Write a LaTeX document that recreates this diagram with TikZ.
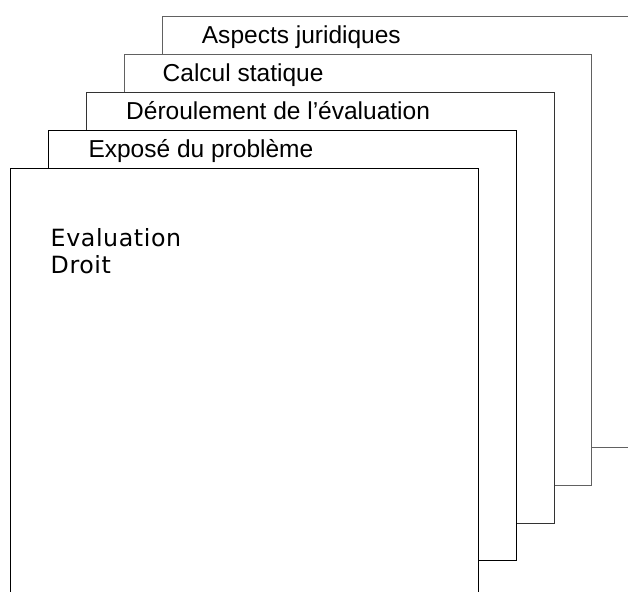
\documentclass[tikz,border=0pt]{standalone}
\usepackage{fontspec}
\setmainfont{Liberation Sans}
\newfontfamily\evalfont[LetterSpace=2.5]{DejaVu Sans}
\tikzset{
  sheet/.style={fill=white, line width=1bp},
  tablabel/.style={anchor=base west, inner sep=0pt, font=\fontsize{24.6}{28}\selectfont},
  bodylabel/.style={anchor=base west, inner sep=0pt, font=\evalfont\fontsize{23.8}{27}\selectfont}
}
\begin{document}
\begin{tikzpicture}[x=1bp,y=-1bp]
\useasboundingbox (0,0) rectangle (628,592);
\begin{scope}
\clip (0,0) rectangle (628,592);
\path[sheet, draw=black!62] (162,17) rectangle (640,447);
\path[sheet, draw=black!62] (124,55) rectangle (591,485);
\path[sheet, draw=black!80] (86,93) rectangle (554,523);
\path[sheet, draw=black] (48,131) rectangle (516,560);
\path[sheet, draw=black] (10,169) rectangle (478,610);
\end{scope}
\node[tablabel] (aspects) at (201.7,43.7) {Aspects juridiques};
\node[tablabel] (calcul) at (162.5,81.7) {Calcul statique};
\node[tablabel] (deroul) at (126,119.7) {Déroulement de l’évaluation};
\node[tablabel] (expose) at (88.3,157.7) {Exposé du problème};
\node[bodylabel] (eval) at (50.5,246.7) {Evaluation};
\node[bodylabel] (droit) at (50.5,273) {Droit};
\end{tikzpicture}
\end{document}
